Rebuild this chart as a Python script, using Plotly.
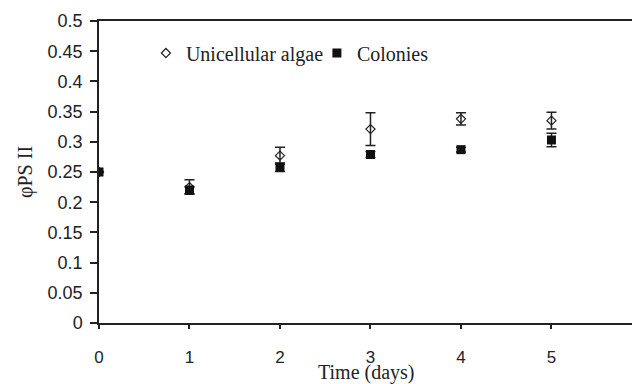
import plotly.graph_objects as go

days = [0, 1, 2, 3, 4, 5]
uni_vals = [0.25, 0.225, 0.277, 0.321, 0.338, 0.335]
uni_err = [0.0, 0.012, 0.014, 0.027, 0.010, 0.014]
col_vals = [0.25, 0.220, 0.258, 0.279, 0.287, 0.303]
col_err = [0.0, 0.006, 0.007, 0.005, 0.004, 0.011]
y_ticks = [0, 0.05, 0.1, 0.15, 0.2, 0.25, 0.3, 0.35, 0.4, 0.45, 0.5]
y_labels = ["0", "0.05", "0.1", "0.15", "0.2", "0.25", "0.3", "0.35", "0.4", "0.45", "0.5"]
x_ticks = [0, 1, 2, 3, 4, 5]
x_title = "Time (days)"

ink = "#222222"
serif = "Liberation Serif"
sans = "Liberation Sans"

fig = go.Figure()
fig.add_trace(go.Scatter(
    x=days, y=uni_vals, mode="markers", name="Unicellular algae",
    marker=dict(symbol="diamond-open", size=7, color=ink, line=dict(width=1.2, color=ink)),
    error_y=dict(type="data", array=uni_err, visible=True, color=ink, thickness=1.5, width=5),
))
fig.add_trace(go.Scatter(
    x=days, y=col_vals, mode="markers", name="Colonies",
    marker=dict(symbol="square", size=9, color="#111111"),
    error_y=dict(type="data", array=col_err, visible=True, color=ink, thickness=1.5, width=5),
))

fig.update_layout(
    width=632, height=384,
    margin=dict(l=99, r=0, t=21, b=61),
    paper_bgcolor="white", plot_bgcolor="white",
    showlegend=True,
    legend=dict(orientation="h", x=0.088, y=0.894, xanchor="left", yanchor="middle",
                font=dict(family=serif, size=20, color=ink), bgcolor="rgba(0,0,0,0)",
                itemwidth=30, entrywidth=126, entrywidthmode="pixels"),
    xaxis=dict(range=[0, 5.89], tickvals=x_ticks, ticks="outside", ticklen=4, tickwidth=1.5,
               tickcolor=ink, showline=True, linecolor=ink, linewidth=1.5, mirror=True,
               showgrid=False, zeroline=False, automargin=False,
               tickfont=dict(family=sans, size=17, color=ink), ticklabelstandoff=14),
    yaxis=dict(range=[0, 0.5], tickvals=y_ticks, ticktext=y_labels, ticks="outside", ticklen=7,
               tickwidth=1.5, tickcolor=ink, showline=True, linecolor=ink, linewidth=1.5,
               showgrid=False, zeroline=False, automargin=False,
               tickfont=dict(family=sans, size=18, color=ink), ticklabelstandoff=4,
               title=dict(text="φPS II", font=dict(family=serif, size=20, color=ink), standoff=10)),
    annotations=[dict(text=x_title, xref="paper", yref="paper", x=0.5, y=-0.207,
                      xanchor="center", yanchor="bottom", showarrow=False,
                      font=dict(family=serif, size=20, color=ink))],
)

fig.write_html("out.html")
